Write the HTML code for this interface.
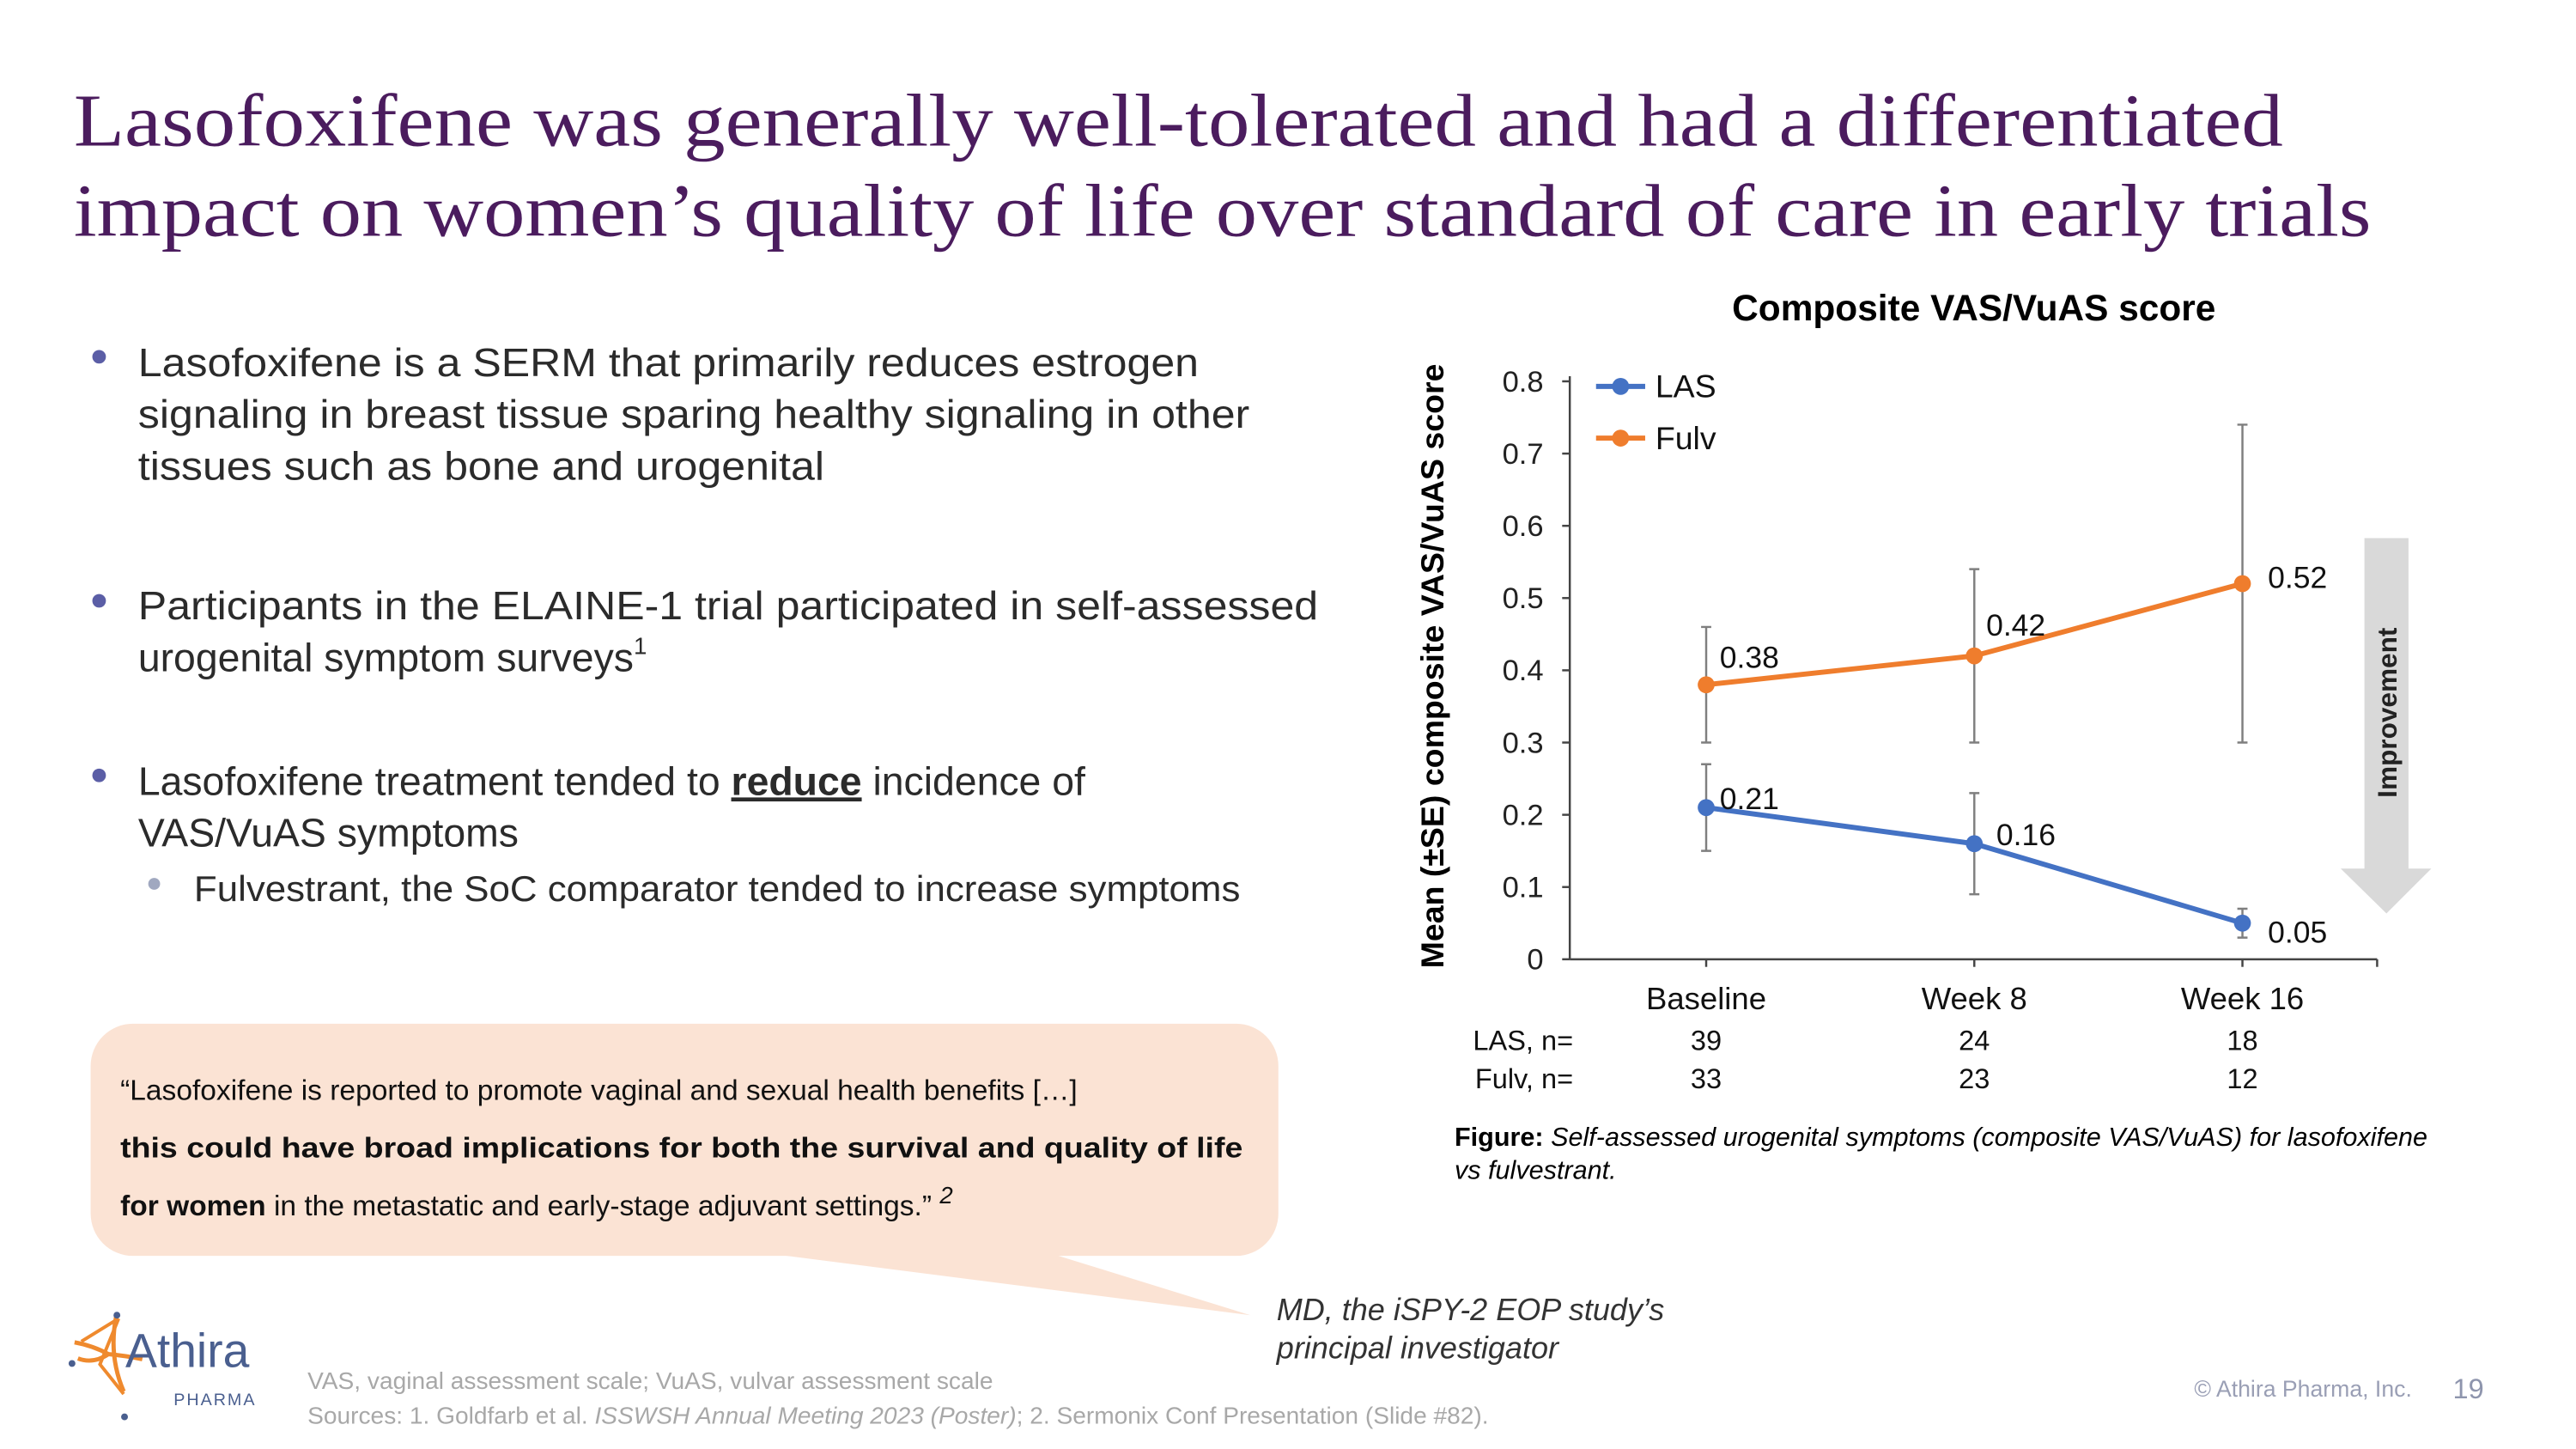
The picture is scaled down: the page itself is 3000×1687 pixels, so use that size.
<!DOCTYPE html>
<html><head><meta charset="utf-8"><style>
html,body{margin:0;padding:0;background:#fff;}
svg{display:block;}
text{font-family:"Liberation Sans",sans-serif;}
</style></head><body>
<svg id="slide" width="3000" height="1687" viewBox="0 0 3000 1687" xmlns="http://www.w3.org/2000/svg">
<rect width="3000" height="1687" fill="#fff"/>
<g transform="scale(0.9866)">
<g fill="#4b1c5e" style="font-family:'Liberation Serif',serif" font-size="88">
<text x="87" y="172" textLength="2608" lengthAdjust="spacingAndGlyphs" style="font-family:'Liberation Serif',serif">Lasofoxifene was generally well-tolerated and had a differentiated</text>
<text x="87" y="278" textLength="2712" lengthAdjust="spacingAndGlyphs" style="font-family:'Liberation Serif',serif">impact on women’s quality of life over standard of care in early trials</text>
</g>
<g fill="#2b2b2b" font-size="47">
<circle cx="117" cy="421" r="8" fill="#5b5ea6"/>
<text x="163" y="444" textLength="1252" lengthAdjust="spacingAndGlyphs">Lasofoxifene is a SERM that primarily reduces estrogen</text>
<text x="163" y="505" textLength="1312" lengthAdjust="spacingAndGlyphs">signaling in breast tissue sparing healthy signaling in other</text>
<text x="163" y="566" textLength="810" lengthAdjust="spacingAndGlyphs">tissues such as bone and urogenital</text>
<circle cx="117" cy="709" r="8" fill="#5b5ea6"/>
<text x="163" y="731" textLength="1393" lengthAdjust="spacingAndGlyphs">Participants in the ELAINE-1 trial participated in self-assessed</text>
<text x="163" y="792">urogenital symptom surveys<tspan font-size="28" dy="-20">1</tspan></text>
<circle cx="117" cy="915" r="8" fill="#5b5ea6"/>
<text x="163" y="938">Lasofoxifene treatment tended to <tspan font-weight="bold" text-decoration="underline">reduce</tspan> incidence of</text>
<text x="163" y="999">VAS/VuAS symptoms</text>
<circle cx="182" cy="1043" r="7" fill="#a0a8c0"/>
<text x="229" y="1063" font-size="42" textLength="1235" lengthAdjust="spacingAndGlyphs">Fulvestrant, the SoC comparator tended to increase symptoms</text>
</g>
<g>
<rect x="107" y="1208" width="1402" height="274" rx="50" fill="#fbe3d4"/>
<polygon points="913,1480 1243,1480 1476,1552" fill="#fbe3d4"/>
<g fill="#111" font-size="34">
<text x="142" y="1298">“Lasofoxifene is reported to promote vaginal and sexual health benefits […]</text>
<text x="142" y="1366" font-weight="bold" textLength="1325" lengthAdjust="spacingAndGlyphs">this could have broad implications for both the survival and quality of life</text>
<text x="142" y="1434"><tspan font-weight="bold">for women</tspan> in the metastatic and early-stage adjuvant settings.” <tspan font-style="italic" font-size="28" dy="-14">2</tspan></text>
</g>
</g>
<g fill="#333" font-size="36.5" font-style="italic">
<text x="1507" y="1558">MD, the iSPY-2 EOP study’s</text>
<text x="1507" y="1603">principal investigator</text>
</g>
<g fill="#a8a8a8" font-size="28.5">
<text x="363" y="1639">VAS, vaginal assessment scale; VuAS, vulvar assessment scale</text>
<text x="363" y="1680">Sources: 1. Goldfarb et al. <tspan font-style="italic">ISSWSH Annual Meeting 2023 (Poster)</tspan>; 2. Sermonix Conf Presentation (Slide #82).</text>
<text x="2847" y="1648" text-anchor="end" font-size="27" fill="#9a9fb5">© Athira Pharma, Inc.</text>
<text x="2932" y="1650" text-anchor="end" font-size="33" fill="#8e95ad">19</text>
</g>
<g>
<path d="M137,1554 Q128,1600 146,1642 M88,1584 Q110,1588 128,1598 Q110,1610 92,1603 M128,1598 Q150,1600 168,1604" stroke="#ef8a2e" stroke-width="5" fill="none"/>
<path d="M140,1556 L118,1610 L146,1645 M96,1583 L140,1556" stroke="#ef8a2e" stroke-width="4" fill="none"/>
<circle cx="138" cy="1552" r="4" fill="#4a5f8f"/><circle cx="85" cy="1609" r="4" fill="#4a5f8f"/><circle cx="147" cy="1672" r="4" fill="#4a5f8f"/>
<text x="148" y="1613" font-size="56" fill="#4a5f8f">Athira</text>
<text x="205" y="1658" font-size="20" fill="#4a5f8f" letter-spacing="2">PHARMA</text>
</g>
<g id="chart"></g>
</g>
</svg>
<script>
const categories = ["Baseline", "Week 8", "Week 16"];
const lasValues = [0.21, 0.16, 0.05];
const lasLow = [0.15, 0.09, 0.03];
const lasHigh = [0.27, 0.23, 0.07];
const fulvValues = [0.38, 0.42, 0.52];
const fulvLow = [0.30, 0.30, 0.30];
const fulvHigh = [0.46, 0.54, 0.74];
const lasN = ["39", "24", "18"];
const fulvN = ["33", "23", "12"];
const yTicks = [0, 0.1, 0.2, 0.3, 0.4, 0.5, 0.6, 0.7, 0.8];
const yTickLabels = ["0", "0.1", "0.2", "0.3", "0.4", "0.5", "0.6", "0.7", "0.8"];

const NS = "http://www.w3.org/2000/svg";
const chart = document.getElementById("chart");
const X0 = 1853, XEND = 2806, Y0 = 1132, YTOP = 450;
function y(v){ return Y0 - (v/0.8)*(Y0-YTOP); }
function x(i){ return 2014 + i*316.5; }
function mk(tag, attrs, parent){
  const e = document.createElementNS(NS, tag);
  for (const k in attrs) e.setAttribute(k, attrs[k]);
  (parent||chart).appendChild(e);
  return e;
}
function txt(s, attrs, name){
  const t = mk("text", attrs);
  t.textContent = s;
  
  
  return t;
}
txt("Composite VAS/VuAS score", {x:2330, y:378, "font-size":43, "font-weight":"bold", "text-anchor":"middle", fill:"#000"}, "chart-title");
txt("Mean (±SE) composite VAS/VuAS score", {x:0, y:0, "font-size":38, "font-weight":"bold", "text-anchor":"middle", fill:"#000", transform:"translate(1704,786) rotate(-90)"}, "y-axis-title");
let a = mk("line", {x1:X0, y1:YTOP-6, x2:X0, y2:Y0, stroke:"#444", "stroke-width":2.5});


a = mk("line", {x1:X0, y1:Y0, x2:XEND, y2:Y0, stroke:"#444", "stroke-width":2.5});


mk("line", {x1:XEND, y1:Y0, x2:XEND, y2:Y0+9, stroke:"#444", "stroke-width":2.5});
yTicks.forEach((v, i) => {
  mk("line", {x1:X0-9, y1:y(v), x2:X0, y2:y(v), stroke:"#444", "stroke-width":2.5});
  txt(yTickLabels[i], {x:1822, y:y(v)+12, "font-size":35, "text-anchor":"end", fill:"#222"}, "y-tick-label");
});
categories.forEach((c, i) => {
  mk("line", {x1:x(i), y1:Y0, x2:x(i), y2:Y0+9, stroke:"#444", "stroke-width":2.5});
  txt(c, {x:x(i), y:1191, "font-size":37, "text-anchor":"middle", fill:"#111"}, "x-tick-label");
  txt(lasN[i], {x:x(i), y:1239, "font-size":33, "text-anchor":"middle", fill:"#111"}, "las-n-value");
  txt(fulvN[i], {x:x(i), y:1284, "font-size":33, "text-anchor":"middle", fill:"#111"}, "fulv-n-value");
});
txt("LAS, n=", {x:1857, y:1239, "font-size":33, "text-anchor":"end", fill:"#111"}, "las-n-label");
txt("Fulv, n=", {x:1857, y:1284, "font-size":33, "text-anchor":"end", fill:"#111"}, "fulv-n-label");
const arr = mk("polygon", {points:"2791,635 2843,635 2843,1025 2870,1025 2817,1078 2763,1025 2791,1025", fill:"#d9d9d9"});


txt("Improvement", {x:0, y:0, "font-size":32, "font-weight":"bold", "text-anchor":"middle", fill:"#222", transform:"translate(2829,841) rotate(-90)"}, "improvement-label");
const labelOffsets = {las:[[16,-10],[26,-10],[30,11]], fulv:[[16,-32],[14,-36],[30,-7]]};
function series(vals, lo, hi, color, key){
  vals.forEach((v, i) => {
    const e = mk("path", {d:`M${x(i)-6},${y(hi[i])}H${x(i)+6}M${x(i)},${y(hi[i])}V${y(lo[i])}M${x(i)-6},${y(lo[i])}H${x(i)+6}`, stroke:"#7f7f7f", "stroke-width":2.5, fill:"none"});
    
    
  });
  const ln = mk("polyline", {points: vals.map((v,i)=>x(i)+","+y(v)).join(" "), stroke:color, "stroke-width":6, fill:"none"});
  
  
  vals.forEach((v, i) => {
    const c = mk("circle", {cx:x(i), cy:y(v), r:10, fill:color});
    
    
    txt(v.toFixed(2), {x:x(i)+labelOffsets[key][i][0], y:y(v)+labelOffsets[key][i][1]+12, "font-size":36, fill:"#111"}, key + "-value-label");
  });
}
series(fulvValues, fulvLow, fulvHigh, "#ef7d2d", "fulv");
series(lasValues, lasLow, lasHigh, "#4472c4", "las");
[["LAS","#4472c4",456],["Fulv","#ef7d2d",517]].forEach(([n,c,ly]) => {
  const l = mk("line", {x1:1884, y1:ly, x2:1942, y2:ly, stroke:c, "stroke-width":6});
  
  
  mk("circle", {cx:1913, cy:ly, r:10, fill:c});
  txt(n, {x:1954, y:ly+13, "font-size":38, fill:"#111"}, "legend-entry");
});
const cap = txt("", {x:1717, y:1352, "font-size":31, fill:"#000"}, "figure-caption");
cap.innerHTML = '<tspan font-weight="bold">Figure:</tspan><tspan font-style="italic"> Self-assessed urogenital symptoms (composite VAS/VuAS) for lasofoxifene</tspan>';
txt("vs fulvestrant.", {x:1717, y:1391, "font-size":31, "font-style":"italic", fill:"#000"}, "figure-caption-line2");
</script>
</body></html>
